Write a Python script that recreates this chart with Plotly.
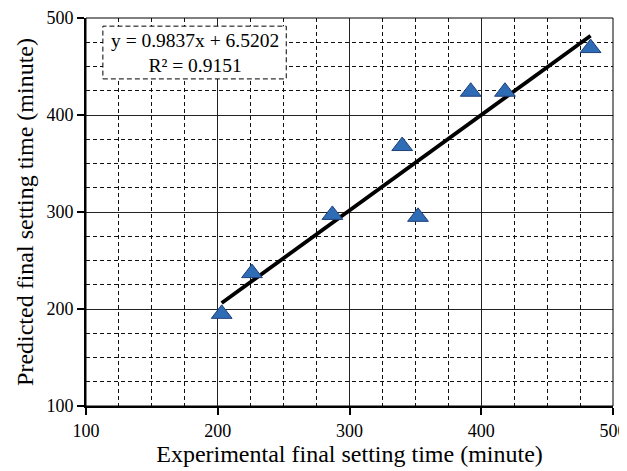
import plotly.graph_objects as go

# Data
experimental = [203, 226, 287, 340, 352, 392, 418, 483]
predicted = [195, 237, 297, 368, 295, 424, 424, 469]

slope = 0.9837
intercept = 6.5202
r_squared = 0.9151

x_ticks = [100, 200, 300, 400, 500]
y_ticks = [100, 200, 300, 400, 500]

x_title = "Experimental final setting time (minute)"
y_title = "Predicted final setting time (minute)"

FONT = "Liberation Serif"

x_fit = [min(experimental), max(experimental)]
y_fit = [slope * v + intercept for v in x_fit]

fig = go.Figure()

fig.add_trace(go.Scatter(
    x=x_fit, y=y_fit, mode="lines",
    line=dict(color="black", width=3.8),
    showlegend=False, hoverinfo="skip",
))

fig.add_trace(go.Scatter(
    x=experimental, y=predicted, mode="markers",
    marker=dict(symbol="triangle-up", size=18, color="#2E6DB6",
                line=dict(color="#1F3F7A", width=1)),
    showlegend=False,
))

axis_common = dict(
    showline=True, linecolor="black", linewidth=2,
    ticks="outside", ticklen=7, tickcolor="black", tickwidth=1.5,
    showgrid=True, gridcolor="#222", gridwidth=1,
    zeroline=False, automargin=False, ticklabeloverflow="allow",
    tickfont=dict(family=FONT, size=18, color="black"),
    minor=dict(dtick=25, showgrid=True, gridcolor="#111", gridwidth=1,
               griddash="4px,3px", ticks=""),
)

fig.update_xaxes(range=[100, 500], tickvals=x_ticks,
                 title=dict(text=x_title, font=dict(family=FONT, size=24, color="black"), standoff=1),
                 **axis_common)
fig.update_yaxes(range=[100, 500], tickvals=y_ticks,
                 title=dict(text=y_title, font=dict(family=FONT, size=24, color="black"), standoff=6),
                 **axis_common)

# plot border (top/right)
fig.add_shape(type="rect", xref="x domain", yref="y domain", x0=0, x1=1, y0=0, y1=1,
              line=dict(color="black", width=1), layer="above")

# equation box
fig.add_shape(type="rect", xref="x domain", yref="y domain",
              x0=0.032, x1=0.38, y0=0.843, y1=0.979,
              line=dict(color="black", width=1, dash="5px,3px"),
              fillcolor="white", layer="above")
fig.add_annotation(xref="x domain", yref="y domain", x=0.206, y=0.911,
                   xanchor="center", yanchor="middle",
                   text=f"y = {slope}x + {intercept}<br>R² = {r_squared}",
                   showarrow=False, align="center",
                   font=dict(family=FONT, size=19.5, color="black"))

# the page body adds an 8px offset, so the figure is sized to fit the window
fig.update_layout(
    width=619, height=463,
    margin=dict(l=78, r=14, t=10, b=65),
    paper_bgcolor="white", plot_bgcolor="white",
)

fig.write_html("out.html")
